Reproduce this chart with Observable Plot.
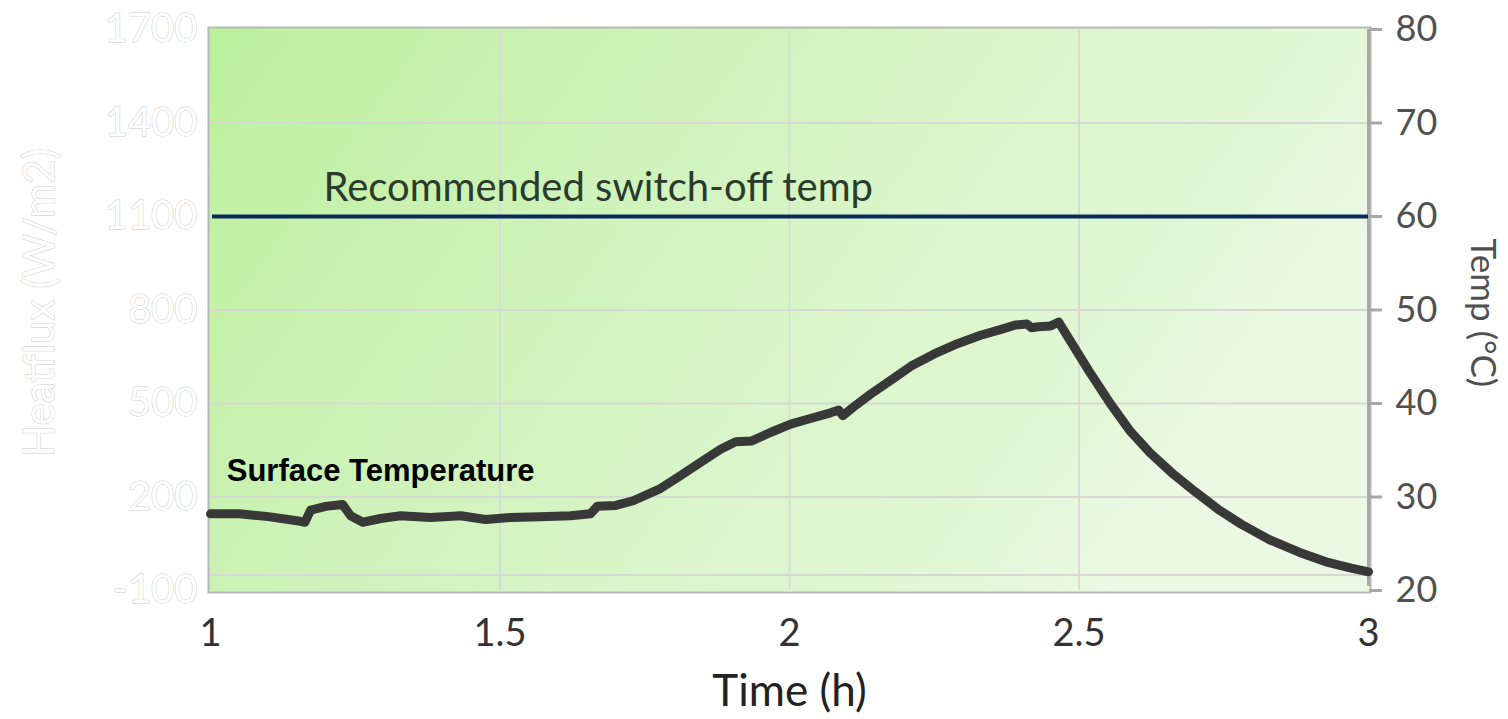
<!DOCTYPE html>
<html>
<head>
<meta charset="utf-8">
<script src="https://cdn.jsdelivr.net/npm/d3@7"></script>
<script src="https://cdn.jsdelivr.net/npm/@observablehq/plot@0.6"></script>
<style>
  html, body { margin: 0; padding: 0; background: #fff; }
  #chart svg { display: block; }
</style>
</head>
<body>
<div id="chart"></div>
<script>
// ---- data ----
const timeH = [1.0, 1.05, 1.1, 1.155, 1.163, 1.173, 1.199, 1.228, 1.242, 1.263, 1.294, 1.328, 1.38, 1.432, 1.475, 1.518, 1.57, 1.622, 1.656, 1.668, 1.70, 1.73, 1.777, 1.812, 1.846, 1.881, 1.907, 1.935, 1.967, 2.002, 2.036, 2.071, 2.085, 2.092, 2.11, 2.14, 2.18, 2.21, 2.25, 2.29, 2.33, 2.364, 2.39, 2.41, 2.418, 2.43, 2.451, 2.465, 2.485, 2.52, 2.554, 2.589, 2.623, 2.66, 2.70, 2.74, 2.78, 2.83, 2.88, 2.93, 2.97, 3.0];
const surfaceTemp = [28.2, 28.2, 27.9, 27.4, 27.3, 28.6, 29.0, 29.2, 28.0, 27.3, 27.7, 28.0, 27.8, 28.0, 27.6, 27.8, 27.9, 28.0, 28.2, 29.0, 29.1, 29.6, 30.9, 32.3, 33.7, 35.1, 35.9, 36.0, 36.9, 37.8, 38.4, 39.0, 39.3, 38.7, 39.6, 41.0, 42.7, 44.0, 45.3, 46.4, 47.3, 47.9, 48.4, 48.5, 48.1, 48.2, 48.3, 48.7, 46.7, 43.2, 40.0, 37.0, 34.7, 32.6, 30.6, 28.7, 27.1, 25.4, 24.1, 23.0, 22.4, 22.0];
const switchOffTemp = [60];
const tempTicks = [20, 30, 40, 50, 60, 70, 80];
const heatfluxTicks = [1700, 1400, 1100, 800, 500, 200, -100];
const heatfluxGrid = [1400, 1100, 800, 500, 200, -50];
const timeTicks = [1, 1.5, 2, 2.5, 3];
const timeGrid = [1.5, 2, 2.5];
const labels = {
  x: "Time (h)",
  yLeft: "Heatflux (W/m2)",
  yRight: "Temp (°C)",
  switchOff: "Recommended switch-off temp",
  series: "Surface Temperature"
};

// heatflux axis shares the temperature range: -100 -> 20 °C, 1700 -> 80 °C
const hfToTemp = hf => 20 + (hf + 100) / 30;

const data = timeH.map((t, i) => ({t, temp: surfaceTemp[i]}));

const chart = Plot.plot({
  width: 1508,
  height: 719,
  marginLeft: 210,
  marginRight: 140,
  marginTop: 29,
  marginBottom: 129,
  style: {fontFamily: "Lato, sans-serif", background: "transparent", overflow: "visible"},
  x: {domain: [1, 3]},
  y: {domain: [20, 80]},
  marks: [
    Plot.frame({fill: "url(#bggrad)", stroke: "#b8b8b8", strokeWidth: 2, inset: -2}),
    Plot.ruleX(timeGrid, {stroke: "#d9dcd6", strokeWidth: 2}),
    Plot.ruleY(heatfluxGrid.map(hfToTemp), {stroke: "#d6d9d3", strokeWidth: 2}),
    // right axis line + ticks
    Plot.ruleX([3], {stroke: "#a8a8a8", strokeWidth: 3, y1: 20, y2: 80, insetTop: -4}),
    Plot.axisY({anchor: "right", ticks: tempTicks, tickSize: 13, tickFormat: () => "", stroke: "#a8a8a8", strokeWidth: 3, label: null}),
    Plot.text(tempTicks, {y: d => d, frameAnchor: "right", dx: 27, textAnchor: "start", text: d => String(d), fontSize: 36, fill: "#505050", lineAnchor: "middle"}),
    Plot.text([labels.yRight], {frameAnchor: "right", y: [49.7], dx: 114, rotate: 90, textAnchor: "middle", fontSize: 35, fill: "#505050", lineAnchor: "middle"}),
    // left axis (white outlined text)
    Plot.text(heatfluxTicks, {y: d => hfToTemp(d), frameAnchor: "left", dx: -13, textAnchor: "end", text: d => String(d), fontSize: 40, fill: "#ffffff", stroke: "#cccccc", strokeWidth: 1, lineAnchor: "middle"}),
    Plot.text([labels.yLeft], {frameAnchor: "left", y: [50.8], dx: -170, rotate: -90, textAnchor: "middle", fontSize: 42, fill: "#ffffff", stroke: "#cccccc", strokeWidth: 1, lineAnchor: "middle"}),
    // x axis
    Plot.axisX({ticks: timeTicks, tickSize: 0, tickPadding: 29, fontSize: 38, color: "#333", label: null, tickFormat: d => String(d)}),
    Plot.text([labels.x], {frameAnchor: "bottom", x: [2], dy: 101, fontSize: 44, fill: "#222", lineAnchor: "middle"}),
    // switch-off line and label
    Plot.ruleY(switchOffTemp, {stroke: "#0b2a5c", strokeWidth: 4, insetLeft: 2}),
    Plot.text(switchOffTemp, {x: [1.195], y: d => d, dy: -28, text: [labels.switchOff], textAnchor: "start", fontSize: 40, fill: "#2b3b2b", lineAnchor: "middle"}),
    // series
    Plot.line(data, {x: "t", y: "temp", stroke: "#383838", strokeWidth: 9, strokeLinejoin: "round", strokeLinecap: "round"}),
    Plot.text([labels.series], {x: [1.028], y: [28.2], dy: -43, textAnchor: "start", fontSize: 31, fontWeight: "bold", fontFamily: "Liberation Sans, Arial, sans-serif", fill: "#000", lineAnchor: "middle"})
  ]
});

// gradient background definition
const ns = "http://www.w3.org/2000/svg";
const defs = document.createElementNS(ns, "defs");
defs.innerHTML = `
  <linearGradient id="bggrad" x1="0" y1="0" x2="1" y2="0.35">
    <stop offset="0" stop-color="#bcf09b"/>
    <stop offset="0.3" stop-color="#cbf2b4"/>
    <stop offset="0.6" stop-color="#d8f5c8"/>
    <stop offset="0.88" stop-color="#e2f7d6"/>
    <stop offset="1" stop-color="#ebf8e4"/>
  </linearGradient>`;
chart.insertBefore(defs, chart.firstChild);
document.getElementById("chart").appendChild(chart);
</script>
</body>
</html>
